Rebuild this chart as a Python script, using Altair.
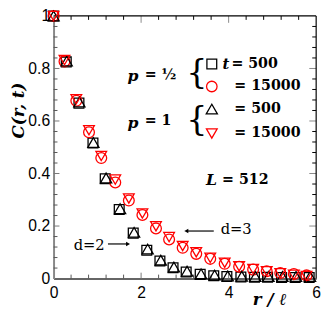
import altair as alt
import pandas as pd

# ---- data ----
# p = 1/2, t = 500 (squares)
sq_x = [0, 0.29, 0.58, 0.90, 1.18, 1.50, 1.82, 2.13, 2.43, 2.73, 3.03, 3.35, 3.66, 3.96, 4.28, 4.59, 4.89, 5.21, 5.52, 5.84]
sq_y = [1.0, 0.825, 0.668, 0.516, 0.380, 0.263, 0.173, 0.108, 0.067, 0.041, 0.025, 0.016, 0.011, 0.008, 0.006, 0.005, 0.005, 0.004, 0.004, 0.004]
# p = 1, t = 500 (up triangles)
tu_x = [0, 0.30, 0.59, 0.91, 1.20, 1.52, 1.84, 2.15, 2.45, 2.75, 3.05, 3.37, 3.68, 3.98, 4.30, 4.61, 4.91, 5.23, 5.54, 5.86]
tu_y = [1.0, 0.828, 0.672, 0.518, 0.383, 0.266, 0.176, 0.112, 0.070, 0.044, 0.028, 0.018, 0.013, 0.010, 0.009, 0.008, 0.008, 0.008, 0.008, 0.008]
# p = 1/2, t = 15000 (circles)
ci_x = [0, 0.25, 0.52, 0.81, 1.09, 1.41, 1.72, 2.03, 2.34, 2.64, 2.95, 3.26, 3.58, 3.91, 4.24, 4.56, 4.87, 5.18, 5.49, 5.78]
ci_y = [1.0, 0.827, 0.677, 0.557, 0.459, 0.366, 0.297, 0.242, 0.191, 0.149, 0.117, 0.094, 0.075, 0.056, 0.045, 0.034, 0.028, 0.021, 0.017, 0.012]
# p = 1, t = 15000 (down triangles)
td_x = [0, 0.25, 0.52, 0.81, 1.09, 1.41, 1.72, 2.03, 2.34, 2.64, 2.95, 3.26, 3.58, 3.91, 4.24, 4.56, 4.87, 5.18, 5.49, 5.78]
td_y = [1.0, 0.832, 0.683, 0.565, 0.467, 0.377, 0.305, 0.248, 0.199, 0.158, 0.124, 0.100, 0.079, 0.060, 0.047, 0.036, 0.028, 0.020, 0.014, 0.010]

x_labels = [0, 2, 4, 6]
y_labels = [0, 0.2, 0.4, 0.6, 0.8, 1.0]
x_minor = [0.4, 0.8, 1.2, 1.6, 2.4, 2.8, 3.2, 3.6, 4.4, 4.8, 5.2, 5.6]
y_minor = [round(i * 0.04, 2) for i in range(1, 25) if i % 5 != 0]

W, H = 268, 268
SERIF = "DejaVu Serif"

xsc = alt.Scale(domain=[0, 6], nice=False, zero=False)
ysc = alt.Scale(domain=[0, 1], nice=False, zero=False)

xaxis = alt.Axis(values=x_labels, format="d", ticks=False, grid=False,
                 domainColor="#333333", domainWidth=1.5,
                 labelFont="Liberation Sans", labelFontSize=16, labelColor="black",
                 labelPadding=6, labelFlush=False, labelOverlap=False,
                 title="r / ℓ", titleFont=SERIF, titleFontStyle="italic",
                 titleFontWeight="bold", titleFontSize=17, titleColor="black",
                 titleX=220, titleY=21, titleAlign="center", titleBaseline="middle")
yaxis = alt.Axis(values=y_labels, format="~g", ticks=False, grid=False,
                 domainColor="#888888", domainWidth=2,
                 labelFont="Liberation Sans", labelFontSize=16, labelColor="black",
                 labelPadding=4, labelFlush=False, labelOverlap=False,
                 title="C(r, t)", titleFont=SERIF, titleFontStyle="italic",
                 titleFontWeight="bold", titleFontSize=17, titleColor="black",
                 titleAngle=270, titleX=-36, titleY=96, titleAlign="center",
                 titleBaseline="middle")

X = lambda: alt.X("x:Q", scale=xsc, axis=xaxis)
Y = lambda: alt.Y("y:Q", scale=ysc, axis=yaxis)


def pts(xs, ys, shape, color, size):
    df = pd.DataFrame({"x": xs, "y": ys})
    return alt.Chart(df).mark_point(shape=shape, filled=False, color=color,
                                    size=size, strokeWidth=1.3, opacity=1).encode(x=X(), y=Y())


def yticks(vals, x0, x1, color):
    return alt.Chart(pd.DataFrame({"y": vals})).mark_rule(color=color, strokeWidth=1).encode(
        y=Y(), x=alt.value(x0), x2=alt.value(x1))


def xticks(vals, y0, y1, color):
    return alt.Chart(pd.DataFrame({"x": vals})).mark_rule(color=color, strokeWidth=1).encode(
        x=X(), y=alt.value(y0), y2=alt.value(y1))


def txt(s, x, y, size=14.5, style="normal", weight="bold", align="left", font=SERIF):
    return alt.Chart(pd.DataFrame({"t": [s]})).mark_text(
        align=align, baseline="middle", font=font, fontSize=size,
        fontStyle=style, fontWeight=weight, color="black").encode(
        x=alt.value(x), y=alt.value(y), text="t:N")


def sym(shape, color, x, y, size=110, filled=False):
    return alt.Chart(pd.DataFrame({"a": [0]})).mark_point(
        shape=shape, filled=filled, color=color, size=size, strokeWidth=1.3, opacity=1).encode(
        x=alt.value(x), y=alt.value(y))


y_major_in = [v for v in y_labels if 0 < v < 1]
x_major_in = [v for v in x_labels if 0 < v < 6]

layers = [
    # ticks (inward)
    yticks(y_minor, 0, 4, "#555555"),
    yticks(y_major_in, 0, 6, "#777777"),
    yticks(y_minor, W - 4, W, "black"),
    yticks(y_major_in, W - 7, W, "#888888"),
    xticks(x_minor, H, H - 4, "#555555"),
    xticks(x_major_in, H, H - 6, "#777777"),
    xticks(x_minor, 0, 4, "black"),
    xticks(x_major_in, 0, 7, "#888888"),
    # top / right frame
    alt.Chart(pd.DataFrame({"a": [0]})).mark_rule(color="black", strokeWidth=1.2).encode(
        x=alt.value(0), x2=alt.value(W), y=alt.value(0)),
    alt.Chart(pd.DataFrame({"a": [0]})).mark_rule(color="black", strokeWidth=1.2).encode(
        x=alt.value(W), y=alt.value(0), y2=alt.value(H)),
    # data
    pts(sq_x, sq_y, "square", "black", 100),
    pts(ci_x, ci_y, "circle", "red", 121),
    pts(tu_x, tu_y, "triangle-up", "black", 130),
    pts(td_x, td_y, "triangle-down", "red", 120),
    # legend annotation
    txt("p", 75.5, 61, size=16, style="italic"),
    txt("= ½", 93, 60, size=14.5),
    txt("{", 135.5, 58, size=34, weight="normal"),
    txt("p", 75.5, 109, size=16, style="italic"),
    txt("= 1", 93, 107, size=14.5),
    txt("{", 135.5, 106, size=34, weight="normal"),
    sym("square", "black", 161.5, 49, 100),
    sym("circle", "red", 161.5, 72, 115),
    sym("triangle-up", "black", 161.5, 95, 130),
    sym("triangle-down", "red", 161.5, 120, 120),
    txt("t", 172.5, 49, size=15, style="italic"),
    txt("= 500", 181.5, 49),
    txt("= 15000", 184.5, 72),
    txt("= 500", 184.5, 95),
    txt("= 15000", 184.5, 120),
    txt("L", 155.5, 168, size=16, style="italic"),
    txt("= 512", 172, 168),
    # d labels and arrows
    txt("d=3", 170.5, 218, size=15, weight="normal"),
    alt.Chart(pd.DataFrame({"a": [0]})).mark_rule(color="black", strokeWidth=1.2).encode(
        x=alt.value(136), x2=alt.value(163.5), y=alt.value(219.5)),
    sym("triangle-left", "black", 135.5, 219.5, 22, filled=True),
    txt("d=2", 20.5, 233.5, size=15, weight="normal"),
    alt.Chart(pd.DataFrame({"a": [0]})).mark_rule(color="black", strokeWidth=1.2).encode(
        x=alt.value(55.5), x2=alt.value(75), y=alt.value(232.7)),
    sym("triangle-right", "black", 76, 232.7, 22, filled=True),
]

chart = alt.layer(*layers).properties(
    width=W, height=H,
    autosize=alt.AutoSizeParams(type="none"),
    padding={"left": 46.5, "top": 5, "right": 8, "bottom": 30},
).configure_view(stroke=None)

chart.save("out.html", embed_options={"renderer": "svg", "actions": False})
